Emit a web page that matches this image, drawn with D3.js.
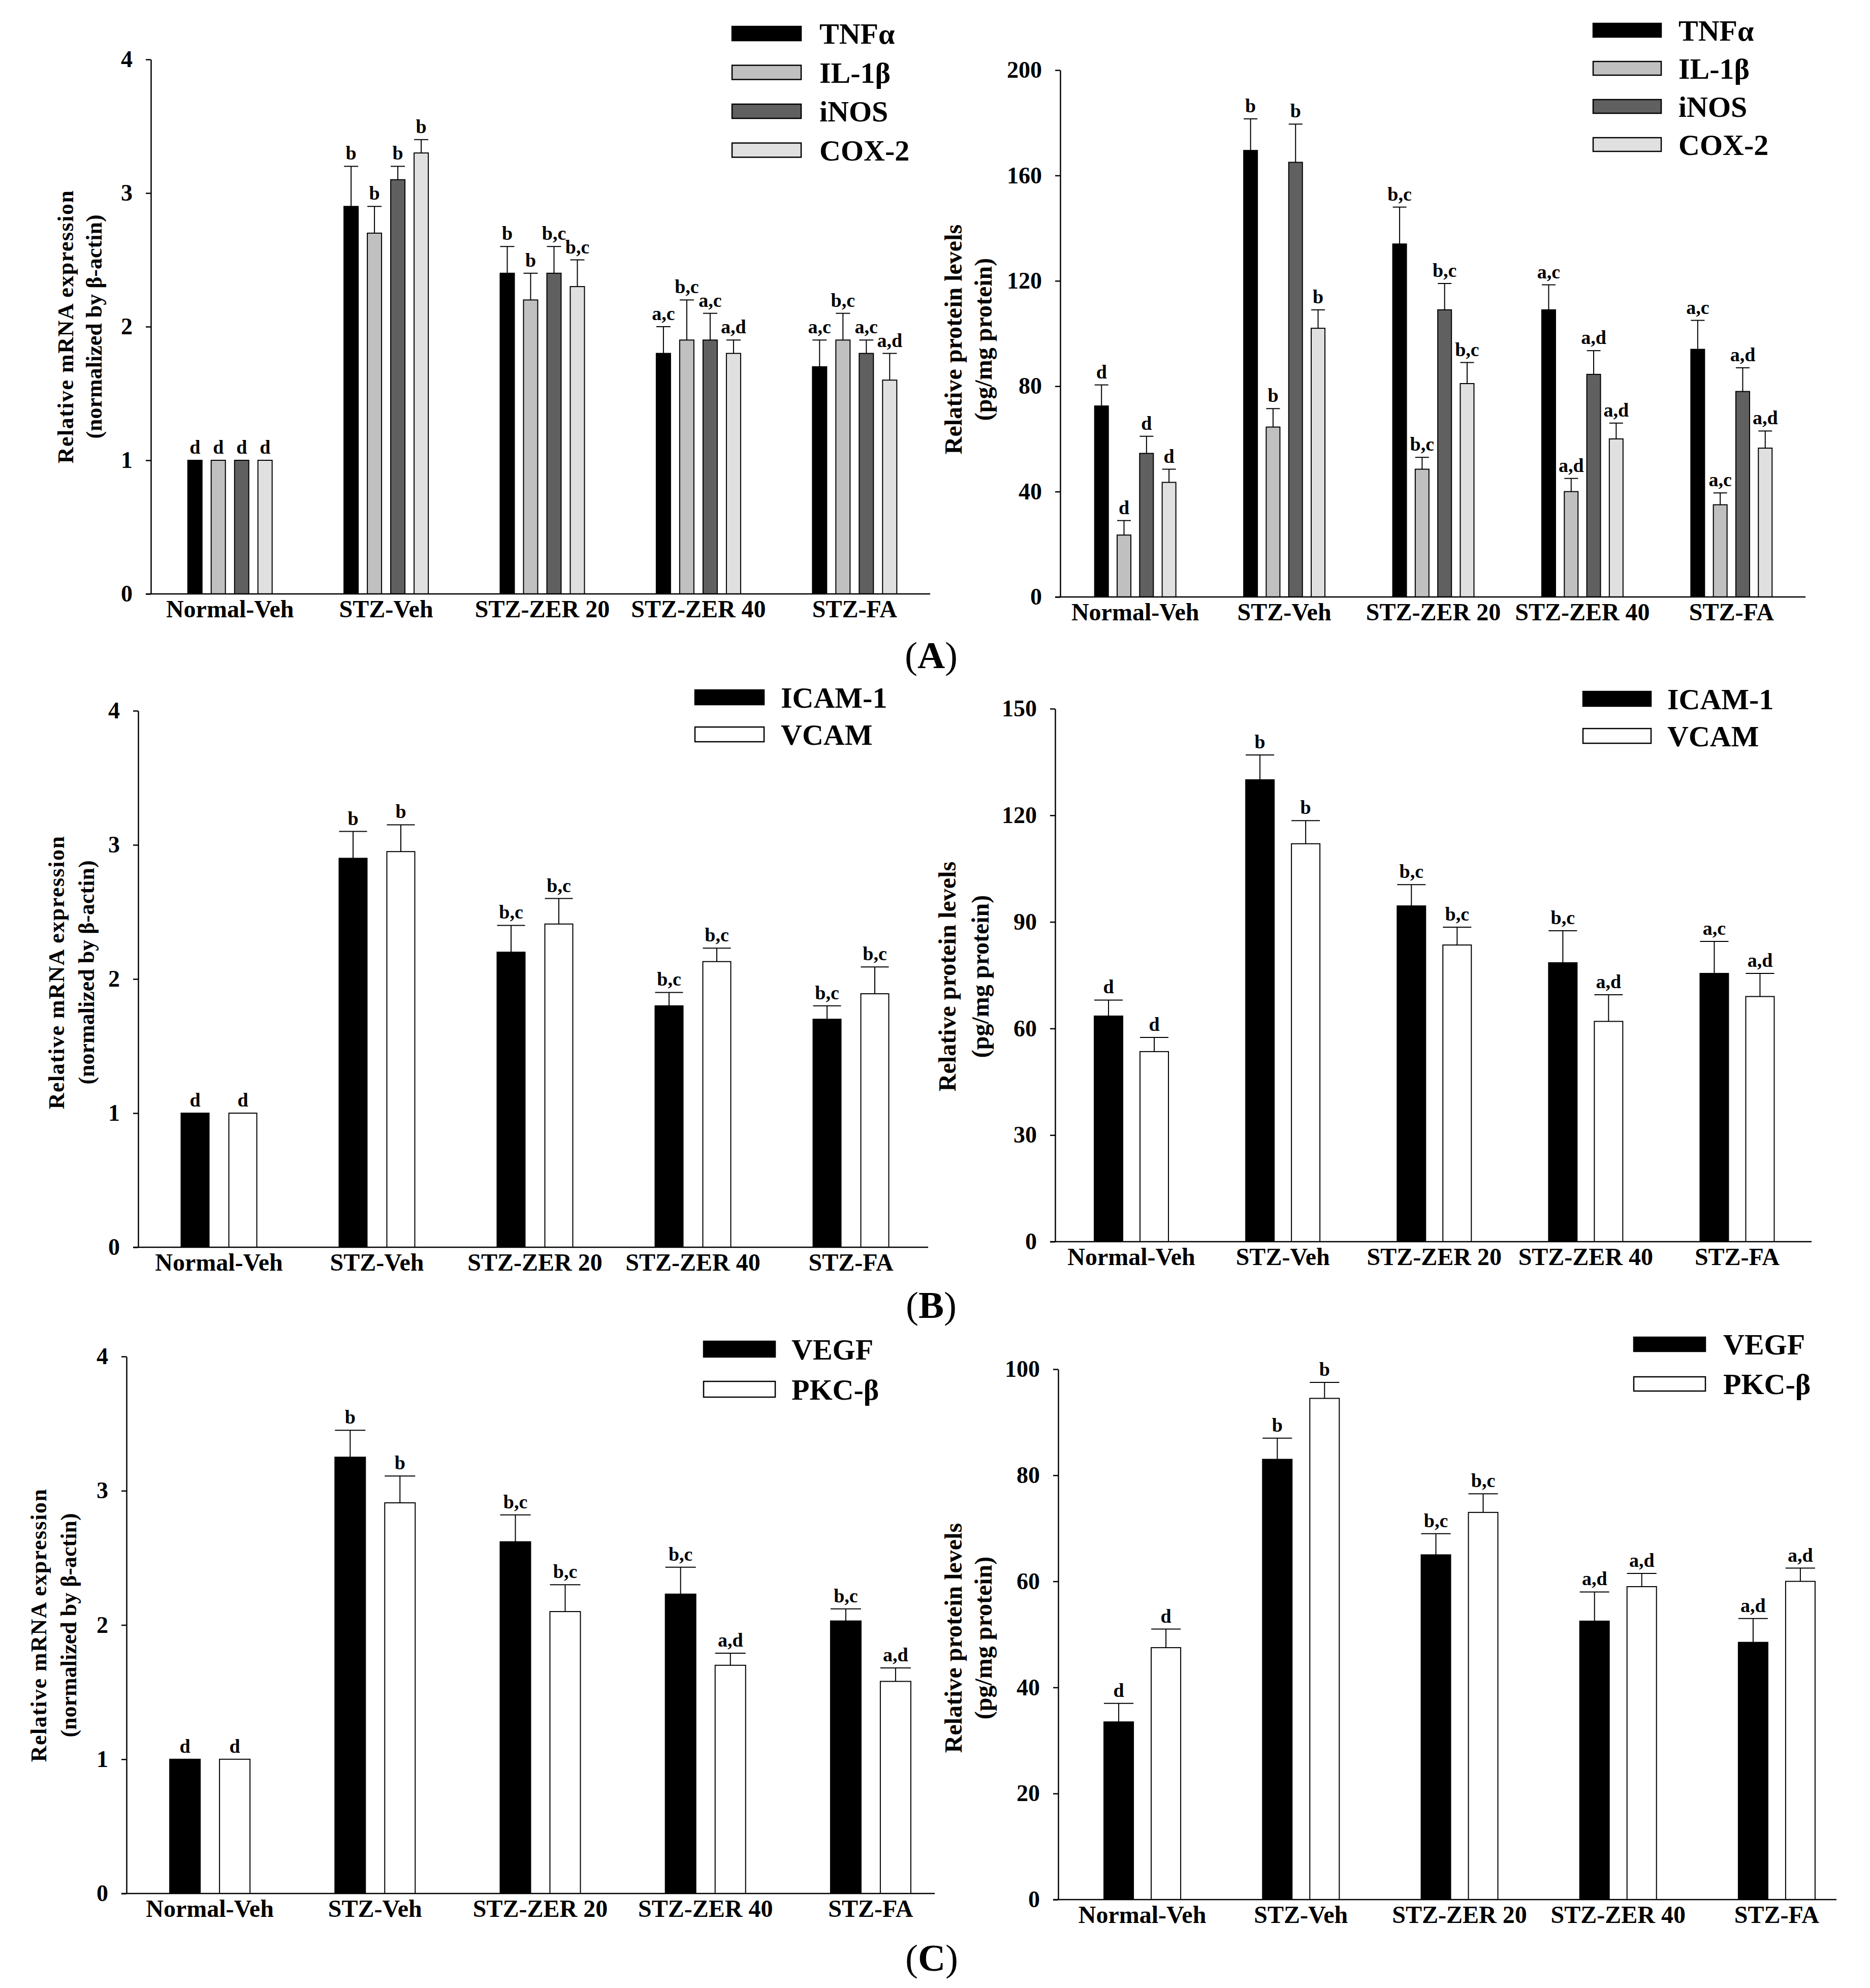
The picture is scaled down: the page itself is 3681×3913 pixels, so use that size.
<!DOCTYPE html>
<html>
<head>
<meta charset="utf-8">
<script src="https://cdn.jsdelivr.net/npm/d3@7"></script>
<style>
  body { margin: 0; background: #fff; }
  text { font-family: "Liberation Serif", "Times New Roman", serif; font-weight: bold; fill: #000; }
</style>
</head>
<body>
<script>
const W = 3681, H = 3913;

// groups on the x axis (shared by all six panels)
const groups = ["Normal-Veh", "STZ-Veh", "STZ-ZER 20", "STZ-ZER 40", "STZ-FA"];

// ---- panel A : inflammatory markers ----
const aSeries = ["TNFα", "IL-1β", "iNOS", "COX-2"];
const aColors = ["#000000", "#c0c0c0", "#606060", "#e0e0e0"];

// mRNA (rows = series, cols = groups)
const aMrnaMean = [
    [1.0, 2.9, 2.4, 1.8, 1.7],
    [1.0, 2.7, 2.2, 1.9, 1.9],
    [1.0, 3.1, 2.4, 1.9, 1.8],
    [1.0, 3.3, 2.3, 1.8, 1.6],
];
const aMrnaErr = [
    [0, 0.3, 0.2, 0.2, 0.2],
    [0, 0.2, 0.2, 0.3, 0.2],
    [0, 0.1, 0.2, 0.2, 0.1],
    [0, 0.1, 0.2, 0.1, 0.2],
];
const aMrnaSig = [
    ["d", "b", "b", "a,c", "a,c"],
    ["d", "b", "b", "b,c", "b,c"],
    ["d", "b", "b,c", "a,c", "a,c"],
    ["d", "b", "b,c", "a,d", "a,d"],
];

// protein (pg/mg protein)
const aProtMean = [
    [72.5, 169.5, 134, 109, 94],
    [23.5, 64.5, 48.5, 40, 35],
    [54.5, 165, 109, 84.5, 78],
    [43.5, 102, 81, 60, 56.5],
];
const aProtErr = [
    [8, 12, 14, 9.5, 11],
    [5.5, 7, 4.5, 5, 4.5],
    [6.5, 14.5, 10, 9, 9],
    [5, 7, 8, 6, 6.5],
];
const aProtSig = [
    ["d", "b", "b,c", "a,c", "a,c"],
    ["d", "b", "b,c", "a,d", "a,c"],
    ["d", "b", "b,c", "a,d", "a,d"],
    ["d", "b", "b,c", "a,d", "a,d"],
];

// ---- panel B : adhesion molecules ----
const bSeries = ["ICAM-1", "VCAM"];
const bColors = ["#000000", "#ffffff"];

const bMrnaMean = [
    [1.0, 2.9, 2.2, 1.8, 1.7],
    [1.0, 2.95, 2.41, 2.13, 1.89],
];
const bMrnaErr = [
    [0, 0.2, 0.2, 0.1, 0.1],
    [0, 0.2, 0.19, 0.1, 0.2],
];
const bMrnaSig = [
    ["d", "b", "b,c", "b,c", "b,c"],
    ["d", "b", "b,c", "b,c", "b,c"],
];

const bProtMean = [
    [63.5, 130, 94.5, 78.5, 75.5],
    [53.5, 112, 83.5, 62, 69],
];
const bProtErr = [
    [4.5, 7, 6, 9, 9],
    [4, 6.5, 5, 7.5, 6.5],
];
const bProtSig = [
    ["d", "b", "b,c", "b,c", "a,c"],
    ["d", "b", "b,c", "a,d", "a,d"],
];

// ---- panel C : angiogenic markers ----
const cSeries = ["VEGF", "PKC-β"];
const cColors = ["#000000", "#ffffff"];

const cMrnaMean = [
    [1.0, 3.25, 2.62, 2.23, 2.03],
    [1.0, 2.91, 2.1, 1.7, 1.58],
];
const cMrnaErr = [
    [0, 0.2, 0.2, 0.2, 0.09],
    [0, 0.2, 0.2, 0.09, 0.1],
];
const cMrnaSig = [
    ["d", "b", "b,c", "b,c", "b,c"],
    ["d", "b", "b,c", "a,d", "a,d"],
];

const cProtMean = [
    [33.5, 83, 65, 52.5, 48.5],
    [47.5, 94.5, 73, 59, 60],
];
const cProtErr = [
    [3.5, 4, 4, 5.5, 4.5],
    [3.5, 3, 3.5, 2.5, 2.5],
];
const cProtSig = [
    ["d", "b", "b,c", "a,d", "a,d"],
    ["d", "b", "b,c", "a,d", "a,d"],
];

const mrnaTitle = ["Relative mRNA expression", "(normalized by β-actin)"];
const protTitle = ["Relative protein levels", "(pg/mg protein)"];

// layout of each of the six charts (pixels)
const panels = [
    { series: aSeries, colors: aColors, mean: aMrnaMean, err: aMrnaErr, sig: aMrnaSig,
      yMax: 4, yStep: 1, title: mrnaTitle, titleX: [129, 185], titleY: 643, titleSize: 44, spacing: 1.5,
      axisX: 297, axisRight: 1831, yTop: 117, yBottom: 1169, band: [299, 1836], barStep: 46, barW: 28,
      legend: { x: 1441, y: 52, w: 136, h: 28, step: 76.5, textX: 1613 } },
    { series: aSeries, colors: aColors, mean: aProtMean, err: aProtErr, sig: aProtSig,
      yMax: 200, yStep: 40, title: protTitle, titleX: [1877, 1936], titleY: 668, titleSize: 48, spacing: 0,
      axisX: 2087, axisRight: 3554, yTop: 138, yBottom: 1175, band: [2088, 3555], barStep: 44.3, barW: 27,
      legend: { x: 3136, y: 46, w: 134, h: 27, step: 75, textX: 3304 } },
    { series: bSeries, colors: bColors, mean: bMrnaMean, err: bMrnaErr, sig: bMrnaSig,
      yMax: 4, yStep: 1, title: mrnaTitle, titleX: [111, 170], titleY: 1914, titleSize: 44, spacing: 1.5,
      axisX: 272, axisRight: 1827, yTop: 1399, yBottom: 2455, band: [275.5, 1830.5], barStep: 94, barW: 55,
      legend: { x: 1368, y: 1358, w: 136, h: 29, step: 73, textX: 1537 } },
    { series: bSeries, colors: bColors, mean: bProtMean, err: bProtErr, sig: bProtSig,
      yMax: 150, yStep: 30, title: protTitle, titleX: [1865, 1930], titleY: 1922, titleSize: 48, spacing: 0,
      axisX: 2077, axisRight: 3566, yTop: 1395, yBottom: 2444, band: [2078, 3568.5], barStep: 90, barW: 56,
      legend: { x: 3116, y: 1361, w: 134, h: 29, step: 73, textX: 3282 } },
    { series: cSeries, colors: cColors, mean: cMrnaMean, err: cMrnaErr, sig: cMrnaSig,
      yMax: 4, yStep: 1, title: mrnaTitle, titleX: [76, 135], titleY: 3199, titleSize: 44, spacing: 1.5,
      axisX: 249, axisRight: 1840, yTop: 2670, yBottom: 3727, band: [250.5, 1876.5], barStep: 98, barW: 60,
      legend: { x: 1385, y: 2640, w: 141, h: 31, step: 79, textX: 1558 } },
    { series: cSeries, colors: cColors, mean: cProtMean, err: cProtErr, sig: cProtSig,
      yMax: 100, yStep: 20, title: protTitle, titleX: [1877, 1936], titleY: 3224, titleSize: 48, spacing: 0,
      axisX: 2083, axisRight: 3615, yTop: 2695, yBottom: 3739, band: [2092.5, 3653.5], barStep: 93, barW: 58,
      legend: { x: 3216, y: 2632, w: 141, h: 28, step: 78, textX: 3392 } },
];

const panelLabels = [
    { letter: "A", x: 1833, y: 1315 },
    { letter: "B", x: 1833, y: 2594 },
    { letter: "C", x: 1834, y: 3879 },
];

const svg = d3.select("body").append("svg")
    .attr("width", W)
    .attr("height", H)
    .attr("viewBox", `0 0 ${W} ${H}`);

svg.append("rect").attr("width", W).attr("height", H).attr("fill", "#fff");

function drawPanel(p) {
    const g = svg.append("g");
    const n = p.series.length;

    const y = d3.scaleLinear().domain([0, p.yMax]).range([p.yBottom, p.yTop]);
    const x0 = d3.scaleBand().domain(groups).range(p.band).padding(0);
    const span = p.barStep * (n - 1) + p.barW;
    const x1 = d3.scaleBand()
        .domain(d3.range(n))
        .range([-span / 2, span / 2])
        .paddingInner(1 - p.barW / p.barStep)
        .paddingOuter(0);
    const cx = (gName) => x0(gName) + x0.bandwidth() / 2;

    // flatten the rows into one record per bar
    const bars = [];
    p.series.forEach((s, si) => {
        groups.forEach((gName, gi) => {
            bars.push({
                si, gName,
                mean: p.mean[si][gi],
                err: p.err[si][gi],
                sig: p.sig[si][gi],
            });
        });
    });

    // bars
    g.selectAll("rect.bar")
        .data(bars)
        .join("rect")
        .attr("class", "bar")
        .attr("x", (d) => cx(d.gName) + x1(d.si))
        .attr("width", x1.bandwidth())
        .attr("y", (d) => y(d.mean))
        .attr("height", (d) => y(0) - y(d.mean))
        .attr("fill", (d) => p.colors[d.si])
        .attr("stroke", "#000")
        .attr("stroke-width", 2);

    // upper error whiskers
    const withErr = bars.filter((d) => d.err > 0);
    g.selectAll("line.err")
        .data(withErr)
        .join("line")
        .attr("class", "err")
        .attr("x1", (d) => cx(d.gName) + x1(d.si) + x1.bandwidth() / 2)
        .attr("x2", (d) => cx(d.gName) + x1(d.si) + x1.bandwidth() / 2)
        .attr("y1", (d) => y(d.mean))
        .attr("y2", (d) => y(d.mean + d.err))
        .attr("stroke", "#000")
        .attr("stroke-width", 2);
    g.selectAll("line.cap")
        .data(withErr)
        .join("line")
        .attr("class", "cap")
        .attr("x1", (d) => cx(d.gName) + x1(d.si))
        .attr("x2", (d) => cx(d.gName) + x1(d.si) + x1.bandwidth())
        .attr("y1", (d) => y(d.mean + d.err))
        .attr("y2", (d) => y(d.mean + d.err))
        .attr("stroke", "#000")
        .attr("stroke-width", 2);

    // significance letters
    g.selectAll("text.sig")
        .data(bars)
        .join("text")
        .attr("class", "sig")
        .attr("x", (d) => cx(d.gName) + x1(d.si) + x1.bandwidth() / 2)
        .attr("y", (d) => y(d.mean + d.err) - 13)
        .attr("text-anchor", "middle")
        .style("font-size", "38px")
        .text((d) => d.sig);

    // y axis
    const yAxis = d3.axisLeft(y)
        .tickValues(d3.range(0, p.yMax + p.yStep / 2, p.yStep))
        .tickSize(10)
        .tickSizeOuter(0)
        .tickPadding(26)
        .tickFormat(d3.format("d"));
    const ya = g.append("g")
        .attr("transform", `translate(${p.axisX},0)`)
        .call(yAxis);
    ya.select(".domain").attr("stroke", "#000").attr("stroke-width", 2.5);
    ya.selectAll(".tick line").attr("stroke", "#000").attr("stroke-width", 2.5);
    ya.selectAll(".tick text")
        .style("font-size", "46px")
        .style("font-family", "'Liberation Serif', serif")
        .style("font-weight", "bold")
        .attr("fill", "#000");

    // x axis (labels only, the line is drawn across the full frame)
    const xAxis = d3.axisBottom(x0).tickSize(0);
    const xa = g.append("g")
        .attr("transform", `translate(0,${p.yBottom})`)
        .call(xAxis);
    xa.select(".domain").remove();
    xa.selectAll(".tick text")
        .attr("y", 46)
        .attr("dy", null)
        .style("font-size", "48px")
        .style("font-family", "'Liberation Serif', serif")
        .style("font-weight", "bold")
        .attr("fill", "#000");
    g.append("line")
        .attr("x1", p.axisX - 10)
        .attr("x2", p.axisRight)
        .attr("y1", p.yBottom)
        .attr("y2", p.yBottom)
        .attr("stroke", "#000")
        .attr("stroke-width", 2.5);

    // y axis title, two rotated lines
    p.title.forEach((t, i) => {
        g.append("text")
            .attr("transform", `translate(${p.titleX[i]},${p.titleY}) rotate(-90)`)
            .attr("text-anchor", "middle")
            .attr("dy", "0.33em")
            .style("font-size", p.titleSize + "px")
            .style("letter-spacing", (i === 0 ? p.spacing : 0) + "px")
            .text(t);
    });

    // legend
    const lg = g.append("g");
    p.series.forEach((s, si) => {
        const top = p.legend.y + si * p.legend.step;
        lg.append("rect")
            .attr("x", p.legend.x)
            .attr("y", top)
            .attr("width", p.legend.w)
            .attr("height", p.legend.h)
            .attr("fill", p.colors[si])
            .attr("stroke", "#000")
            .attr("stroke-width", 2.5);
        lg.append("text")
            .attr("x", p.legend.textX)
            .attr("y", top + p.legend.h / 2 + 20)
            .style("font-size", "58px")
            .text(s);
    });
}

panels.forEach(drawPanel);

// (A) (B) (C) captions
panelLabels.forEach((l) => {
    const t = svg.append("text")
        .attr("x", l.x)
        .attr("y", l.y)
        .attr("text-anchor", "middle")
        .style("font-size", "75px")
        .style("font-weight", "normal");
    t.append("tspan").text("(");
    t.append("tspan").style("font-weight", "bold").text(l.letter);
    t.append("tspan").text(")");
});
</script>
</body>
</html>
